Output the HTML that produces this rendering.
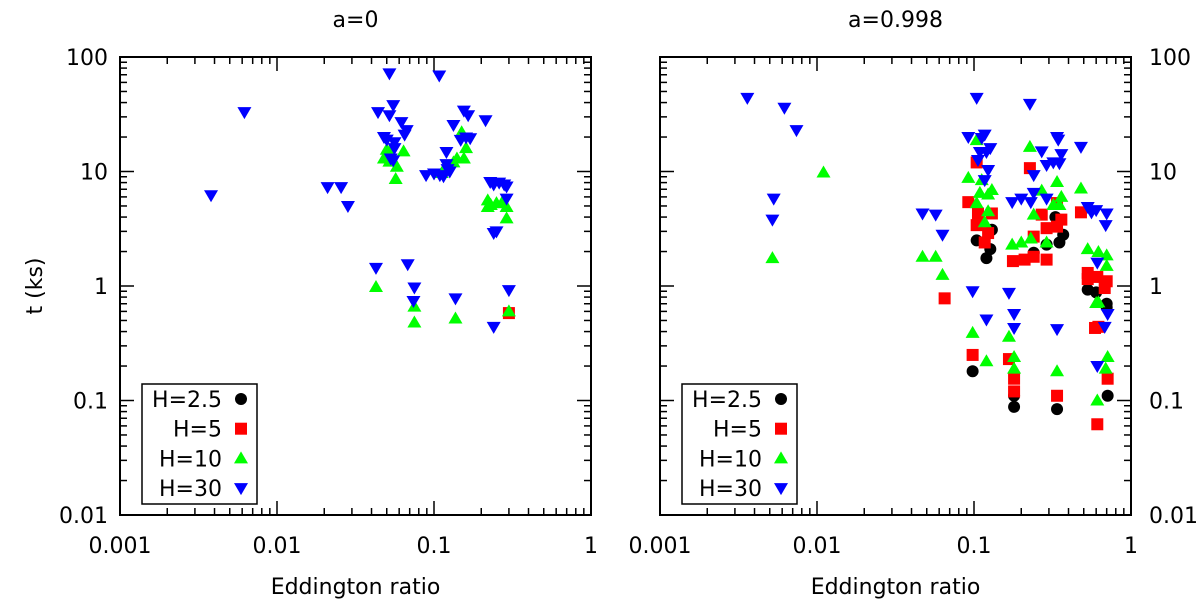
<!DOCTYPE html>
<html><head><meta charset="utf-8"><style>
body{margin:0;background:#fff}
svg{display:block;font-family:"DejaVu Sans","Liberation Sans",sans-serif}
</style></head><body>
<svg id="c" width="1200" height="610"></svg>
<script>
// Data: [eddington ratio, t (ks)]
const leftH30=[[0.0038,6.2],[0.0062,33],[0.021,7.3],[0.0256,7.3],[0.0283,5.0],[0.0427,1.44],[0.068,1.55],[0.075,0.97],[0.074,0.74],[0.052,72],[0.108,69],[0.044,33],[0.055,38],[0.052,31],[0.062,27],[0.067,23],[0.065,21],[0.048,20],[0.05,19],[0.056,16],[0.056,18],[0.053,13],[0.055,12.5],[0.089,9.3],[0.1,9.6],[0.109,9.3],[0.115,9.1],[0.12,11.6],[0.122,10.5],[0.12,14.8],[0.133,25.5],[0.148,18.9],[0.16,19.8],[0.17,19.5],[0.155,34],[0.165,31],[0.213,28],[0.126,10],[0.228,8.1],[0.24,7.7],[0.26,8],[0.28,7.7],[0.29,7.4],[0.29,5.8],[0.24,2.9],[0.25,3],[0.137,0.78],[0.24,0.44],[0.3,0.92]];
const leftH10=[[0.0427,0.98],[0.075,0.66],[0.075,0.48],[0.137,0.52],[0.3,0.6],[0.05,15.5],[0.052,14.5],[0.048,13],[0.052,12.2],[0.058,11],[0.064,15],[0.057,8.6],[0.112,9.7],[0.133,12],[0.14,13],[0.155,13],[0.16,16],[0.15,22],[0.22,5.6],[0.23,5.1],[0.25,5.3],[0.27,5.3],[0.29,4.9],[0.29,3.9],[0.22,4.9]];
const leftH5=[[0.3,0.58]];
const leftH25=[];
const rightH30=[[0.0036,44],[0.0062,36],[0.0074,23],[0.0053,5.8],[0.0052,3.8],[0.047,4.3],[0.057,4.2],[0.104,44],[0.227,39],[0.092,20],[0.117,21],[0.112,19.6],[0.109,14.8],[0.127,16],[0.106,12.6],[0.12,14.8],[0.123,10.3],[0.117,8.4],[0.338,20],[0.344,19],[0.48,16.4],[0.27,15],[0.36,14.2],[0.29,11.4],[0.32,12],[0.35,11.8],[0.24,9.3],[0.24,6.5],[0.175,5.4],[0.2,5.8],[0.23,5.4],[0.29,5.8],[0.53,4.9],[0.6,4.6],[0.7,4.3],[0.69,3.4],[0.56,4.4],[0.063,2.8],[0.61,1.6],[0.098,0.9],[0.167,0.87],[0.12,0.51],[0.18,0.57],[0.71,0.57],[0.18,0.43],[0.338,0.42],[0.61,0.2],[0.68,0.44]];
const rightH10=[[0.011,9.8],[0.0052,1.75],[0.047,1.8],[0.057,1.8],[0.063,1.25],[0.098,0.39],[0.12,0.22],[0.167,0.36],[0.18,0.24],[0.18,0.19],[0.338,0.18],[0.61,0.1],[0.71,0.24],[0.69,0.19],[0.6,0.71],[0.62,0.72],[0.104,18.8],[0.092,8.8],[0.112,8.4],[0.13,6.9],[0.109,6.5],[0.123,6.3],[0.104,5.3],[0.123,4.5],[0.117,3.6],[0.227,16.4],[0.338,8.1],[0.36,6],[0.32,5.1],[0.35,5.1],[0.27,6.8],[0.24,4.2],[0.48,7.1],[0.175,2.3],[0.2,2.4],[0.23,2.6],[0.29,2.4],[0.53,2.1],[0.62,1.98],[0.7,1.85],[0.7,1.5]];
const rightH5=[[0.065,0.78],[0.098,0.25],[0.167,0.23],[0.18,0.155],[0.18,0.12],[0.338,0.11],[0.71,0.155],[0.61,0.062],[0.59,0.43],[0.62,0.44],[0.092,5.4],[0.104,12],[0.106,4.3],[0.13,4.3],[0.104,3.4],[0.123,2.9],[0.117,2.4],[0.227,10.7],[0.27,4.2],[0.338,5.3],[0.36,3.8],[0.29,3.2],[0.338,3.3],[0.24,2.7],[0.177,1.65],[0.21,1.7],[0.24,1.8],[0.29,1.7],[0.48,4.4],[0.53,1.3],[0.61,1.2],[0.7,1.1],[0.53,1.15],[0.68,0.96]];
const rightH25=[[0.104,2.5],[0.12,1.75],[0.127,2.1],[0.13,3.1],[0.33,4.0],[0.29,2.3],[0.35,2.4],[0.37,2.8],[0.24,1.95],[0.53,0.93],[0.6,0.88],[0.7,0.7],[0.098,0.18],[0.18,0.11],[0.18,0.088],[0.338,0.084],[0.71,0.11],[0.7,0.65]];
const xTicks=[0.001,0.01,0.1,1];
const xTickLabels=["0.001","0.01","0.1","1"];
const yTicks=[0.01,0.1,1,10,100];
const yTickLabels=["0.01","0.1","1","10","100"];
const legendLabels=["H=2.5","H=5","H=10","H=30"];

const NS="http://www.w3.org/2000/svg";
const svg=document.getElementById('c');
function mk(tag,attrs,parent){const e=document.createElementNS(NS,tag);for(const k in attrs)e.setAttribute(k,attrs[k]);(parent||svg).appendChild(e);return e;}
const TOP=57,BOT=515;
function yS(v){return BOT-(Math.log10(v)+2)/4*(BOT-TOP);}
function panel(x0,x1,name,title,rightLabels,sets){
  const g=mk('g',{});
  
  
  const xS=v=>x0+(Math.log10(v)+3)/3*(x1-x0);
  const frame=mk('rect',{x:x0,y:TOP,width:x1-x0,height:BOT-TOP,fill:'none',stroke:'#000','stroke-width':2},g);
  
  
  for(let d=-3;d<0;d++){for(let m=1;m<10;m++){const v=m*Math.pow(10,d);const x=xS(v);const L=m==1?14:7;
    mk('line',{x1:x,x2:x,y1:BOT,y2:BOT-L,stroke:'#000','stroke-width':1.5},g);mk('line',{x1:x,x2:x,y1:TOP,y2:TOP+L,stroke:'#000','stroke-width':1.5},g);}}
  for(let d=-2;d<2;d++){for(let m=1;m<10;m++){const v=m*Math.pow(10,d);const y=yS(v);const L=m==1?14:7;
    mk('line',{x1:x0,x2:x0+L,y1:y,y2:y,stroke:'#000','stroke-width':1.5},g);mk('line',{x1:x1,x2:x1-L,y1:y,y2:y,stroke:'#000','stroke-width':1.5},g);}}
  xTicks.forEach((v,i)=>{const t=mk('text',{x:xS(v),y:553,'font-size':22,'text-anchor':'middle'},g);t.textContent=xTickLabels[i];
    
    });
  yTicks.forEach((v,i)=>{const t=mk('text',{x:rightLabels?x1+18:x0-12,y:yS(v)+8,'font-size':22,'text-anchor':rightLabels?'start':'end'},g);t.textContent=yTickLabels[i];
    
    });
  const xt=mk('text',{x:(x0+x1)/2,y:594,'font-size':22,'text-anchor':'middle'},g);xt.textContent='Eddington ratio';
  
  
  const tt=mk('text',{x:(x0+x1)/2,y:27,'font-size':22,'text-anchor':'middle'},g);tt.textContent=title;
  
  
  sets.forEach((s,si)=>{s.forEach(p=>{const m=marker(si,xS(p[0]),yS(p[1]),g);
    
    });});
  const lg=mk('g',{},g);
  
  
  const lx=x0+22;
  mk('rect',{x:lx,y:384,width:115,height:120,fill:'#fff',stroke:'#000','stroke-width':1.5},lg);
  legendLabels.forEach((l,i)=>{const y=399+i*29.7;
    const t=mk('text',{x:lx+80,y:y+8,'font-size':22,'text-anchor':'end'},lg);t.textContent=l;
    
    
    marker(i,lx+99,y,lg);});
}
function marker(k,x,y,g){
  if(k==0)return mk('circle',{cx:x,cy:y,r:6,fill:'#000'},g);
  if(k==1)return mk('rect',{x:x-6,y:y-6,width:12,height:12,fill:'#ff0000'},g);
  if(k==2)return mk('path',{d:`M${x},${y-7}L${x+7},${y+5}L${x-7},${y+5}Z`,fill:'#00ff00'},g);
  return mk('path',{d:`M${x},${y+7}L${x+7},${y-5}L${x-7},${y-5}Z`,fill:'#0000ff'},g);
}
panel(120,591,'panel-a0','a=0',false,[leftH25,leftH5,leftH10,leftH30]);
panel(660,1131,'panel-a0998','a=0.998',true,[rightH25,rightH5,rightH10,rightH30]);
const yt=mk('text',{x:0,y:0,'font-size':22,'text-anchor':'middle',transform:'translate(42,286) rotate(-90)'});
yt.textContent='t (ks)';


</script>
</body></html>
